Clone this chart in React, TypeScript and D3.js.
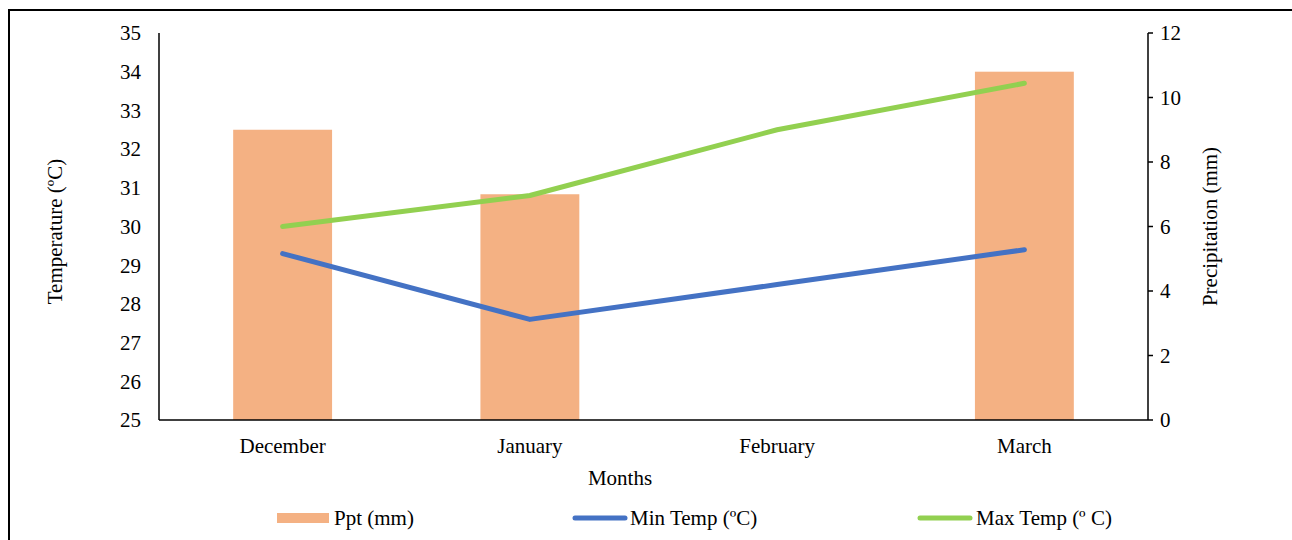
import React from "react";
import * as d3 from "d3";

const months = ["December", "January", "February", "March"];
const pptMm = [9.0, 7.0, 0, 10.8];
const minTemp = [29.3, 27.6, 28.5, 29.4];
const maxTemp = [30.0, 30.8, 32.5, 33.7];
const tempTicks = [25, 26, 27, 28, 29, 30, 31, 32, 33, 34, 35];
const pptTicks = [0, 2, 4, 6, 8, 10, 12];

const W = 1292;
const H = 540;
const left = 159;
const right = 1148;
const top = 33;
const bottom = 420;
const FONT = "'Liberation Serif', 'Times New Roman', serif";
const FS = 21;

export default function App() {
  const x = d3.scaleBand<string>().domain(months).range([left, right]).paddingInner(0.6).paddingOuter(0.3);
  const xc = d3.scalePoint<string>().domain(months).range([left, right]).padding(0.5);
  const yT = d3.scaleLinear().domain([25, 35]).range([bottom, top]);
  const yP = d3.scaleLinear().domain([0, 12]).range([bottom, top]);

  const lineTemp = d3.line<number>().x((_, i) => xc(months[i])!).y((d) => yT(d));

  return (
    <svg width={W} height={H} style={{ position: "absolute", left: 0, top: 0, display: "block" }}>
      <rect x={0} y={0} width={W} height={H} fill="#fff" />
      <rect x={9} y={10} width={W + 20} height={H + 20} fill="none" stroke="#000" strokeWidth={2} />

      {/* precipitation bars */}
      {months.map((m, i) =>
        pptMm[i] > 0 ? (
          <rect key={m} x={x(m)!} y={yP(pptMm[i])} width={x.bandwidth()} height={bottom - yP(pptMm[i])} fill="#F4B183" />
        ) : null
      )}

      {/* axes */}
      <line x1={left} y1={top} x2={left} y2={bottom} stroke="#000" strokeWidth={1.5} />
      <line x1={left} y1={bottom} x2={right} y2={bottom} stroke="#000" strokeWidth={1.5} />
      <line x1={right} y1={top} x2={right} y2={bottom} stroke="#000" strokeWidth={1.5} />

      {tempTicks.map((t) => (
        <text key={t} x={left - 18} y={yT(t)} dy="0.35em" textAnchor="end" fontFamily={FONT} fontSize={FS} fill="#000">
          {t}
        </text>
      ))}
      {pptTicks.map((t) => (
        <g key={t}>
          <line x1={right} x2={right + 5} y1={yP(t)} y2={yP(t)} stroke="#000" strokeWidth={1.5} />
          <text x={right + 12} y={yP(t)} dy="0.35em" textAnchor="start" fontFamily={FONT} fontSize={FS} fill="#000">
            {t}
          </text>
        </g>
      ))}
      {months.map((m) => (
        <text key={m} x={xc(m)!} y={bottom + 26} dy="0.35em" textAnchor="middle" fontFamily={FONT} fontSize={FS} fill="#000">
          {m}
        </text>
      ))}

      {/* axis titles */}
      <text transform={`translate(55,${(top + bottom) / 2 + 5}) rotate(-90)`} dy="0.35em" textAnchor="middle" fontFamily={FONT} fontSize={FS} fill="#000">
        Temperature (ºC)
      </text>
      <text transform={`translate(1210,${(top + bottom) / 2}) rotate(-90)`} dy="0.35em" textAnchor="middle" fontFamily={FONT} fontSize={FS} fill="#000">
        Precipitation (mm)
      </text>
      <text x={620} y={478} dy="0.35em" textAnchor="middle" fontFamily={FONT} fontSize={FS} fill="#000">
        Months
      </text>

      {/* temperature lines */}
      <path d={lineTemp(minTemp)!} fill="none" stroke="#4472C4" strokeWidth={5} strokeLinecap="round" strokeLinejoin="round" />
      <path d={lineTemp(maxTemp)!} fill="none" stroke="#92D050" strokeWidth={5} strokeLinecap="round" strokeLinejoin="round" />

      {/* legend */}
      <rect x={277} y={513} width={52} height={10} fill="#F4B183" />
      <text x={334} y={518} dy="0.35em" fontFamily={FONT} fontSize={FS} fill="#000">Ppt (mm)</text>
      <line x1={575} x2={625} y1={518} y2={518} stroke="#4472C4" strokeWidth={5} strokeLinecap="round" />
      <text x={630} y={518} dy="0.35em" fontFamily={FONT} fontSize={FS} fill="#000">Min Temp (ºC)</text>
      <line x1={920} x2={970} y1={518} y2={518} stroke="#92D050" strokeWidth={5} strokeLinecap="round" />
      <text x={976} y={518} dy="0.35em" fontFamily={FONT} fontSize={FS} fill="#000">Max Temp (º C)</text>
    </svg>
  );
}
